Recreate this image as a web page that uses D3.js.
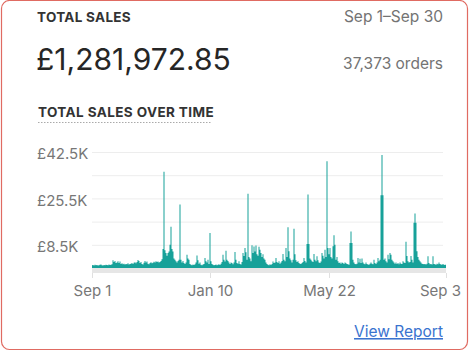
<!DOCTYPE html>
<html>
<head>
<meta charset="utf-8">
<script src="https://cdn.jsdelivr.net/npm/d3@7"></script>
<style>
  body { margin: 0; background: #fff; font-family: Inter, "Noto Sans", sans-serif; }
  .axis path { display: none; }
</style>
</head>
<body>
<div class="container"></div>
<script>
// daily total sales, thousands of GBP (one entry per day, Sep 1 .. Sep 3)
var salesK = [
  1.0,1.1,0.9,1.2,1.0,1.1,0.9,1.0,1.2,1.3,
  1.0,0.9,1.1,1.0,1.2,1.1,1.0,1.3,1.1,1.2,
  1.4,2.8,2.2,2.6,1.8,2.0,2.5,1.8,2.4,1.5,
  1.7,1.4,1.6,1.3,1.5,1.4,1.7,1.3,1.5,1.6,
  1.8,1.5,1.9,2.1,1.7,2.2,2.9,2.6,1.8,2.2,
  1.5,1.3,1.9,2.6,2.0,2.4,1.6,1.4,1.8,2.1,
  1.7,1.9,2.3,2.0,2.5,2.2,2.4,2.0,2.2,2.6,
  3.2,7.0,35.3,6.5,5.5,4.5,5.5,6.0,8.5,15.1,
  7.0,6.0,3.5,3.0,2.5,2.0,2.6,3.0,23.3,3.0,
  2.0,2.6,1.8,1.5,2.0,4.9,3.5,3.0,1.5,1.2,
  1.0,1.3,1.1,1.4,2.0,4.6,2.8,1.6,2.0,1.2,
  1.0,1.3,1.5,3.7,2.5,2.0,3.0,1.5,12.8,2.5,
  1.5,1.2,1.0,1.1,1.3,1.0,1.2,1.4,1.1,1.6,
  2.2,4.9,3.0,2.4,6.3,3.0,2.6,2.0,1.5,2.0,
  1.8,1.4,2.0,5.9,3.0,1.8,1.6,2.5,1.5,1.3,
  2.2,5.5,4.4,7.3,5.8,3.0,27.2,4.0,3.5,2.5,
  8.3,5.5,7.9,6.0,8.2,5.0,4.5,7.8,6.7,5.5,
  4.0,5.0,3.5,3.0,2.0,1.5,1.2,1.0,1.4,1.1,
  1.5,2.4,1.8,2.0,3.7,2.2,1.8,2.5,1.6,2.0,
  2.6,5.1,3.0,2.5,7.3,4.0,14.9,6.1,3.5,2.8,
  2.0,3.0,14.4,5.0,2.8,2.2,2.5,1.8,1.6,1.5,
  1.8,2.2,3.7,2.6,2.0,8.8,26.9,8.8,3.5,3.0,
  2.5,2.2,5.1,3.0,2.5,4.3,2.8,2.0,1.8,2.4,
  5.5,4.5,3.5,6.7,4.0,39.1,7.3,5.0,7.3,4.0,
  3.5,8.0,12.0,8.5,3.0,4.0,2.5,1.8,2.0,1.6,
  2.0,1.8,1.5,2.0,1.7,1.5,1.4,1.2,9.2,13.4,
  9.2,3.0,2.0,1.5,1.4,1.6,3.7,2.0,3.4,1.8,
  3.5,2.0,1.6,1.4,2.0,1.5,1.3,1.2,1.6,2.0,
  1.6,1.4,3.0,1.8,1.5,2.0,3.7,2.5,3.0,26.7,
  41.4,26.7,3.0,3.5,2.5,2.0,4.9,3.2,5.5,4.9,
  3.0,2.5,2.0,1.6,2.0,1.5,1.8,1.4,2.0,1.6,
  1.5,2.5,2.0,1.8,9.6,4.4,2.5,2.0,2.2,4.4,
  3.0,2.0,16.6,20.0,16.6,6.1,4.0,3.0,2.5,2.0,
  1.6,1.5,1.4,1.5,1.3,1.6,4.3,1.8,1.4,1.5,
  1.3,4.3,1.5,1.4,1.2,1.6,1.4,2.0,1.5,1.3,
  1.2,1.5,1.2,1.1,1.3
];

var xTickIndex = [0, 118, 237, 354];
var xTickLabels = ["Sep 1", "Jan 10", "May 22", "Sep 3"];
var gridValues = [8.5, 17, 25.5, 34, 42.5];
var yLabelValues = [8.5, 25.5, 42.5];

var title = "TOTAL SALES";
var dateRange = "Sep 1\u2013Sep 30";
var totalSales = "\u00a31,281,972.85";
var orders = "37,373 orders";
var chartTitle = "TOTAL SALES OVER TIME";
var linkText = "View Report";

const WIDTH = 470;
const HEIGHT = 352;
const LEFT = 92, RIGHT = 446, TOP = 152, BOTTOM = 268;

var svg = d3.select('.container').append('svg')
  .attr('width', WIDTH)
  .attr('height', HEIGHT);

// card
svg.append('rect')
  .attr('x', 1.5).attr('y', 0.5)
  .attr('width', 466).attr('height', 349)
  .attr('rx', 8)
  .attr('fill', '#fff')
  .attr('stroke', '#e06b62')
  .attr('stroke-width', 1.2);

// header texts
svg.append('text').text(title)
  .attr('x', 37).attr('y', 22)
  .attr('font-size', 13.5).attr('font-weight', 700)
  .attr('letter-spacing', 0.3)
  .attr('fill', '#333');

svg.append('text').text(dateRange)
  .attr('x', 443).attr('y', 22)
  .attr('text-anchor', 'end')
  .attr('font-size', 15.5)
  .attr('fill', '#737373');

svg.append('text').text(totalSales)
  .attr('x', 36).attr('y', 70)
  .attr('font-size', 30)
  .attr('fill', '#262626');

svg.append('text').text(orders)
  .attr('x', 443).attr('y', 69)
  .attr('text-anchor', 'end')
  .attr('font-size', 15.5)
  .attr('fill', '#737373');

svg.append('text').text(chartTitle)
  .attr('x', 38).attr('y', 117)
  .attr('font-size', 13.5).attr('font-weight', 700)
  .attr('letter-spacing', 0.4)
  .attr('fill', '#333');

svg.append('line')
  .attr('x1', 38).attr('x2', 212)
  .attr('y1', 122.5).attr('y2', 122.5)
  .attr('stroke', '#aaa')
  .attr('stroke-dasharray', '1.5,1.5');

// scales
var xScale = d3.scaleLinear()
  .domain([0, salesK.length - 1])
  .range([LEFT, RIGHT]);

var yScale = d3.scaleLinear()
  .domain([0, 42.5])
  .range([BOTTOM, TOP]);

// grid
svg.append('g')
  .attr('class', 'axis')
  .attr('transform', 'translate(' + LEFT + ',0)')
  .call(d3.axisRight(yScale).tickValues(gridValues).tickSize(RIGHT - LEFT - 3).tickFormat(''))
  .selectAll('line').attr('stroke', '#ededed');

// y labels
svg.append('g')
  .attr('class', 'axis')
  .attr('transform', 'translate(37,2)')
  .call(d3.axisLeft(yScale).tickValues(yLabelValues).tickSize(0)
    .tickFormat(function(d){ return '\u00a3' + d3.format('.1f')(d) + 'K'; }))
  .selectAll('text')
  .attr('text-anchor', 'start')
  .attr('x', 0)
  .attr('font-family', 'Inter, sans-serif')
  .attr('font-size', 15)
  .attr('fill', '#777');

// baseline band
svg.append('rect')
  .attr('x', LEFT).attr('y', BOTTOM)
  .attr('width', RIGHT - LEFT).attr('height', 5)
  .attr('fill', '#e6e6e6');

// area
var area = d3.area()
  .x(function(d, i){ return xScale(i); })
  .y0(yScale(0))
  .y1(function(d){ return yScale(d); })
  .curve(d3.curveStep);

svg.append('path')
  .attr('d', area(salesK))
  .attr('fill', '#17a199');

// x axis
var xAxis = svg.append('g')
  .attr('class', 'axis')
  .attr('transform', 'translate(0,' + (BOTTOM + 5) + ')')
  .call(d3.axisBottom(xScale).tickValues(xTickIndex).tickSize(5).tickPadding(7)
    .tickFormat(function(d, i){ return xTickLabels[i]; }));

xAxis.selectAll('line').attr('stroke', '#e0e0e0');
xAxis.selectAll('text')
  .attr('font-family', 'Inter, sans-serif')
  .attr('font-size', 15)
  .attr('fill', '#777')
  .attr('dx', function(d, i){ return i === xTickLabels.length - 1 ? -6 : 0; });

// link
svg.append('text').text(linkText)
  .attr('x', 443).attr('y', 337)
  .attr('text-anchor', 'end')
  .attr('font-size', 15.5)
  .attr('fill', '#3a73cf')
  .attr('text-decoration', 'underline');
</script>
</body>
</html>
